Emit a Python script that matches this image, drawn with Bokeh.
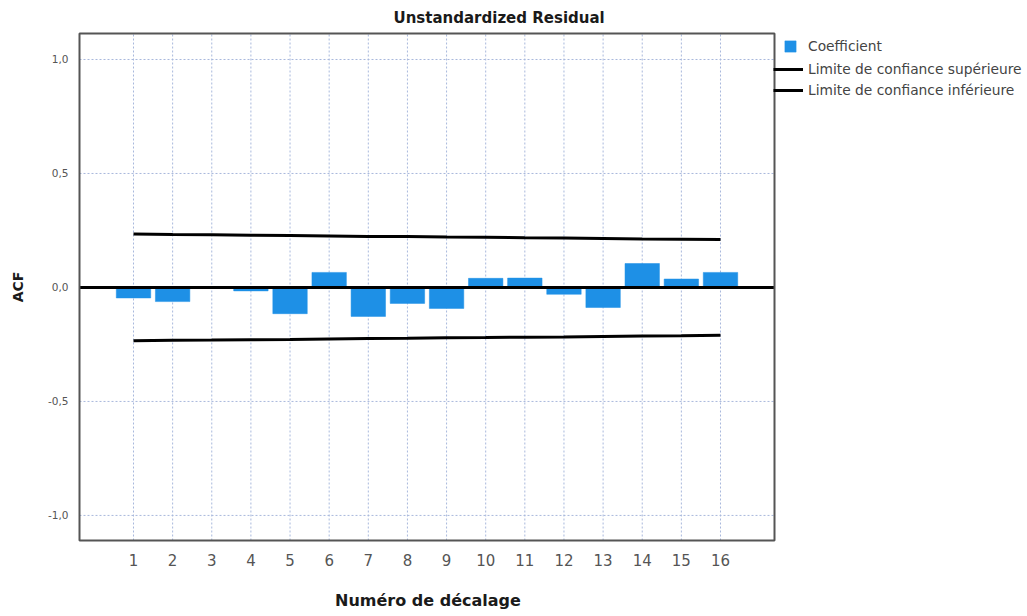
from bokeh.plotting import figure
from bokeh.models import (Range1d, FixedTicker, CustomJSTickFormatter,
                          Legend, LegendItem, ColumnDataSource)
from bokeh.embed import file_html
from bokeh.resources import INLINE

# ---- data ----
lags = list(range(1, 17))
acf = [-0.046, -0.062, 0.0, -0.015, -0.115, 0.066, -0.127, -0.070,
       -0.092, 0.040, 0.041, -0.030, -0.088, 0.105, 0.037, 0.066]
upper = [0.234, 0.232, 0.231, 0.229, 0.228, 0.226, 0.224, 0.223,
         0.221, 0.220, 0.218, 0.217, 0.215, 0.213, 0.212, 0.210]
lower = [-0.234, -0.232, -0.231, -0.229, -0.228, -0.226, -0.224, -0.223,
         -0.221, -0.220, -0.218, -0.217, -0.215, -0.213, -0.212, -0.210]
y_ticks = [-1.0, -0.5, 0.0, 0.5, 1.0]
title_text = "Unstandardized Residual"
x_title = "Numéro de décalage"
y_title = "ACF"
legend_labels = ["Coefficient", "Limite de confiance supérieure", "Limite de confiance inférieure"]

# ---- style / layout ----
BAR = "#1e90e6"
GRID = "#a8b8dc"
BOX = "#555555"
FONT = "DejaVu Sans"
X0, X1 = -0.38, 17.38          # data-area box (x)
Y0, Y1 = -1.11, 1.114          # data-area box (y)
PX_X = 695 / (X1 - X0)         # pixels per x unit
PX_Y = 507 / (Y1 - Y0)         # pixels per y unit
W, H = 1025, 614
ML, MT, MR, MB = 77, 31, 2, 72
frame_w = W - ML - MR
frame_h = H - MT - MB

src = ColumnDataSource(dict(lag=lags, acf=acf, upper=upper, lower=lower))

p = figure(width=W, height=H,
           x_range=Range1d(X0 - 2 / PX_X, X0 - 2 / PX_X + frame_w / PX_X),
           y_range=Range1d(Y0 - 2 / PX_Y, Y0 - 2 / PX_Y + frame_h / PX_Y),
           output_backend="svg", toolbar_location=None,
           min_border_left=ML, min_border_right=MR,
           min_border_top=MT, min_border_bottom=MB)

p.background_fill_color = "white"
p.border_fill_color = "white"
p.outline_line_color = None
p.xgrid.visible = False
p.ygrid.visible = False

# title
p.title.text = title_text
p.title.align = "left"
p.title.offset = 393 - ML
p.title.standoff = 10
p.title.text_font = FONT
p.title.text_font_style = "bold"
p.title.text_font_size = "15px"
p.title.text_color = "#1a1a1a"

# axes
p.xaxis.ticker = FixedTicker(ticks=lags)
p.yaxis.ticker = FixedTicker(ticks=y_ticks)
p.yaxis.formatter = CustomJSTickFormatter(code="return tick.toFixed(1).replace('.', ',');")
for ax in (p.xaxis, p.yaxis):
    ax.axis_line_color = None
    ax.major_tick_line_color = None
    ax.minor_tick_line_color = None
    ax.major_tick_in = 0
    ax.major_tick_out = 0
    ax.axis_label_text_font = FONT
    ax.axis_label_text_font_style = "bold"
    ax.axis_label_text_color = "#1a1a1a"
    ax.major_label_text_font = FONT
    ax.major_label_text_color = "#555555"

# the axis label is centred on the whole frame (which also holds the legend);
# trailing no-break spaces shift the visible words under the data area
p.xaxis.axis_label = x_title + "\u00a0" * 44
p.xaxis.axis_label_text_font_size = "16px"
p.xaxis.major_label_text_font_size = "15px"
p.xaxis.major_label_standoff = 11
p.xaxis.axis_label_standoff = 22

p.yaxis.axis_label = y_title
p.yaxis.axis_label_text_font_size = "14px"
p.yaxis.major_label_text_font_size = "10.5px"
p.yaxis.major_label_standoff = 9
p.yaxis.axis_label_standoff = 19

# dotted grid inside the data-area box
p.segment(x0=lags, y0=[Y0] * len(lags), x1=lags, y1=[Y1] * len(lags),
          line_color=GRID, line_dash="2 2", line_width=1)
p.segment(x0=[X0] * len(y_ticks), y0=y_ticks, x1=[X1] * len(y_ticks), y1=y_ticks,
          line_color=GRID, line_dash="2 2", line_width=1)

# bars
bars = p.vbar(x="lag", top="acf", bottom=0, width=0.88, source=src,
              fill_color=BAR, line_color=BAR, line_width=0.5)

# confidence limits
up = p.line(x="lag", y="upper", source=src, line_color="black", line_width=3)
lo = p.line(x="lag", y="lower", source=src, line_color="black", line_width=3)

# zero line across the data area
p.segment(x0=[X0], y0=[0], x1=[X1], y1=[0], line_color="black", line_width=3)

# data-area frame
p.quad(left=[X0], right=[X1], bottom=[Y0], top=[Y1], fill_color=None,
       line_color=BOX, line_width=2)

# legends (placed to the right of the data area)
common = dict(padding=0, margin=0, border_line_color=None, background_fill_alpha=0,
              label_text_font=FONT, label_text_font_size="13.8px",
              label_text_color="#444444")
leg1 = Legend(items=[LegendItem(label=legend_labels[0], renderers=[bars])],
              location=(783 - ML, (MT + frame_h) - 54),
              glyph_width=14, glyph_height=14, label_height=14,
              label_standoff=11, **common)
leg2 = Legend(items=[LegendItem(label=legend_labels[1], renderers=[up]),
                     LegendItem(label=legend_labels[2], renderers=[lo])],
              location=(773 - ML, (MT + frame_h) - 98),
              glyph_width=30, glyph_height=14, label_height=14, spacing=5,
              label_standoff=5, **common)
p.add_layout(leg1, "center")
p.add_layout(leg2, "center")

open("out.html", "w").write(file_html(p, INLINE))
